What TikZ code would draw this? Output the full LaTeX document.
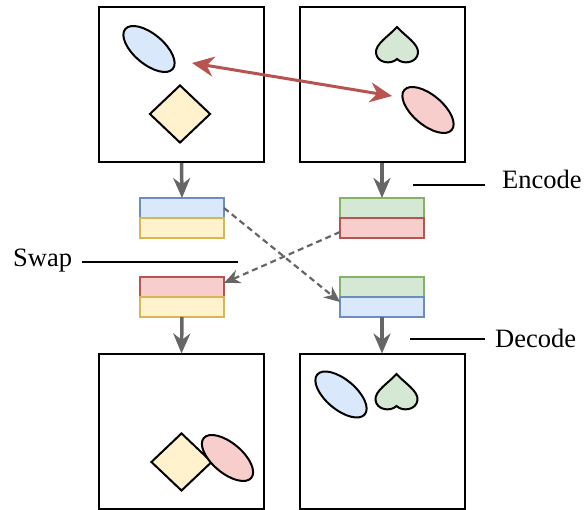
\documentclass[tikz,border=0pt]{standalone}
\usepackage{fontspec}
\setmainfont{Liberation Serif}
\usepackage{xcolor}
\usetikzlibrary{arrows.meta,positioning,shapes.geometric}

\definecolor{blueF}{HTML}{DAE8FC}
\definecolor{blueD}{HTML}{6C8EBF}
\definecolor{yellowF}{HTML}{FFF2CC}
\definecolor{yellowD}{HTML}{D6B656}
\definecolor{redF}{HTML}{F8CECC}
\definecolor{redD}{HTML}{B85450}
\definecolor{greenF}{HTML}{D5E8D4}
\definecolor{greenD}{HTML}{82B366}
\definecolor{flowgray}{HTML}{666666}

\begin{document}
\begin{tikzpicture}[x=1pt,y=1pt,
  panel/.style={draw=black,line width=2pt,minimum width=165pt,minimum height=155pt,inner sep=0pt},
  half/.style={line width=1.8pt,minimum width=84pt,minimum height=20pt,inner sep=0pt,outer sep=0pt},
  flow/.style={draw=flowgray,line width=3.5pt,-{Stealth[length=20pt,width=17pt]}},
  swapflow/.style={draw=flowgray,line width=2.2pt,dash pattern=on 6pt off 4pt,-{Stealth[length=16pt,width=14pt]}},
  leader/.style={draw=black,line width=1.8pt},
  tag/.style={font=\fontsize{26.5}{30}\selectfont,inner sep=0pt},
  blob/.style={ellipse,draw=black,line width=2pt,minimum width=62pt,minimum height=30pt,inner sep=0pt,rotate=-40},
  gem/.style={diamond,draw=black,line width=2pt,fill=yellowF,minimum width=61pt,minimum height=58pt,inner sep=0pt},
  heart/.pic={\draw[line width=2pt,fill=greenF] (0,19) .. controls (-8,10) and (-22,2) .. (-21,-7)
      .. controls (-20,-17) and (-6,-19) .. (0,-13) .. controls (6,-19) and (20,-17) .. (21,-7)
      .. controls (22,2) and (8,10) .. (0,19) -- cycle;}
]
  \useasboundingbox (0,0) rectangle (587,510);

  % panels
  \node[panel] (tlpanel) at (181.5,425.5) {};
  \node[panel] (trpanel) at (382,425.5) {};
  \node[panel] (blpanel) at (181.5,78) {};
  \node[panel] (brpanel) at (382,78) {};

  % shapes in the panels
  \node[blob,fill=blueF] (tlblob) at (149,461) {};
  \node[gem] (tlgem) at (180,396) {};
  \pic at (397,464) {heart};
  \node[blob,fill=redF] (trblob) at (428,400) {};
  \node[gem] (blgem) at (181.5,48) {};
  \node[blob,fill=redF] (blblob) at (227.5,52) {};
  \node[blob,fill=blueF] (brblob) at (341,115.5) {};
  \pic at (396.5,117) {heart};

  % codes
  \node[half,draw=blueD,fill=blueF] (encLa) at (182,302) {};
  \node[half,draw=yellowD,fill=yellowF,below=0pt of encLa] (encLb) {};
  \node[half,draw=greenD,fill=greenF] (encRa) at (382,302) {};
  \node[half,draw=redD,fill=redF,below=0pt of encRa] (encRb) {};
  \node[half,draw=redD,fill=redF] (decLa) at (182,223) {};
  \node[half,draw=yellowD,fill=yellowF,below=0pt of decLa] (decLb) {};
  \node[half,draw=greenD,fill=greenF] (decRa) at (382,223) {};
  \node[half,draw=blueD,fill=blueF,below=0pt of decRa] (decRb) {};

  \draw[flow] (tlpanel.south) -- (encLa.north);
  \draw[flow] (trpanel.south) -- (encRa.north);
  \draw[flow] (decLb.south) -- (blpanel.north);
  \draw[flow] (decRb.south) -- (brpanel.north);

  \draw[swapflow] (encLa.east) -- ([yshift=5pt]decRb.west);
  \draw[swapflow] ([yshift=-4pt]encRb.west) -- ([yshift=4pt]decLa.east);

  % matching pair
  \coordinate (pairL) at (192,447);
  \coordinate (pairR) at (392,414);
  \draw[draw=redD,line width=3pt,{Stealth[length=22pt,width=20pt]}-{Stealth[length=22pt,width=20pt]}] (pairL) -- (pairR);

  % labels
  \node[tag,anchor=base west] (enctxt) at (502,321) {Encode};
  \coordinate (encA) at (413,325);
  \coordinate (encB) at (485,325);
  \draw[leader] (encA) -- (encB);

  \node[tag,anchor=base west] (swaptxt) at (13,243) {Swap};
  \coordinate (swapA) at (82,248);
  \coordinate (swapB) at (238,248);
  \draw[leader] (swapA) -- (swapB);

  \node[tag,anchor=base west] (dectxt) at (495,162) {Decode};
  \coordinate (decA) at (410,171);
  \coordinate (decB) at (485,171);
  \draw[leader] (decA) -- (decB);
\end{tikzpicture}
\end{document}
